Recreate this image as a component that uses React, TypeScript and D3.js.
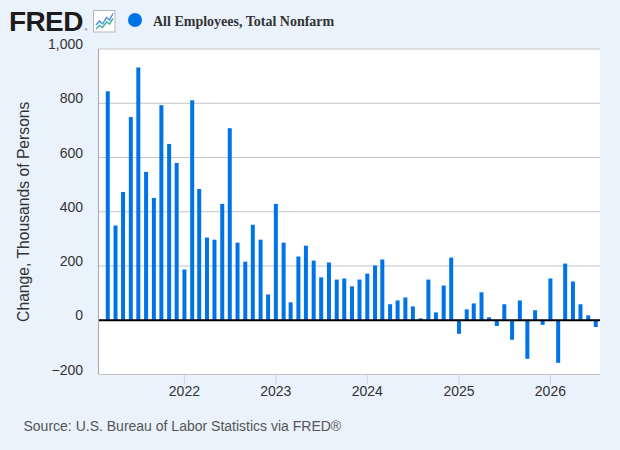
import React from "react";
import * as d3 from "d3";

const months: string[] = [
  "2021-03", "2021-04", "2021-05", "2021-06", "2021-07", "2021-08", "2021-09", "2021-10", "2021-11", "2021-12",
  "2022-01", "2022-02", "2022-03", "2022-04", "2022-05", "2022-06", "2022-07", "2022-08", "2022-09", "2022-10", "2022-11", "2022-12",
  "2023-01", "2023-02", "2023-03", "2023-04", "2023-05", "2023-06", "2023-07", "2023-08", "2023-09", "2023-10", "2023-11", "2023-12",
  "2024-01", "2024-02", "2024-03", "2024-04", "2024-05", "2024-06", "2024-07", "2024-08", "2024-09", "2024-10", "2024-11", "2024-12",
  "2025-01", "2025-02", "2025-03", "2025-04", "2025-05", "2025-06", "2025-07", "2025-08", "2025-09", "2025-10", "2025-11", "2025-12",
  "2026-01", "2026-02", "2026-03", "2026-04", "2026-05", "2026-06", "2026-07",
];

const changes: number[] = [
  844, 349, 473, 749, 932, 547, 451, 793, 650, 580,
  187, 811, 484, 305, 297, 429, 708, 286, 216, 352, 297, 95,
  429, 286, 66, 235, 275, 220, 158, 213, 150, 154, 125, 150,
  172, 202, 224, 59, 73, 84, 51, 7, 150, 29, 128, 231,
  -50, 40, 62, 103, 11, -21, 59, -72, 73, -142, 37, -17,
  154, -157, 209, 143, 59, 18, -25,
];

const yTicks: number[] = [-200, 0, 200, 400, 600, 800, 1000];
const xTickYears: string[] = ["2022", "2023", "2024", "2025", "2026"];

const seriesTitle = "All Employees, Total Nonfarm";
const yAxisTitle = "Change, Thousands of Persons";
const sourceText = "Source: U.S. Bureau of Labor Statistics via FRED®";

const W = 620;
const H = 450;
const plot = { left: 98.5, right: 600, top: 49, bottom: 374.5 };
const BG = "#eaf2fb";
const BAR = "#0073e6";
const FONT = "'Liberation Sans', Arial, Helvetica, sans-serif";

const parseMonth = d3.timeParse("%Y-%m");
const parseDay = d3.timeParse("%Y-%m-%d");

export default function App() {
  const x = d3
    .scaleTime()
    .domain([parseDay("2021-01-23")!, parseDay("2026-07-18")!])
    .range([plot.left, plot.right]);
  const y = d3.scaleLinear().domain([-200, 1000]).range([plot.bottom, plot.top]);
  const fmt = d3.format(",");
  const barW = 4;
  const data = months.map((m, i) => ({ date: parseMonth(m)!, value: changes[i] }));

  return (
    <svg
      width={W}
      height={H}
      style={{ position: "absolute", left: 0, top: 0, display: "block" }}
      fontFamily={FONT}
    >
      <rect x={0} y={0} width={W} height={H} fill={BG} />

      {/* FRED logo */}
      <text x={9} y={31} fontFamily={FONT} fontWeight={900} fontSize={28} fill="#1e1b1c" letterSpacing={-0.6}>
        FRED
      </text>
      <text x={84.5} y={31} fontSize={4} fill="#1e1b1c">®</text>
      <rect x={93.5} y={10.5} width={21.5} height={21.5} fill="#ffffff" stroke="#b5b5b5" strokeWidth={1} />
      <polyline
        points="96,25 99.5,21 102.5,24 106.5,17.5 109.5,20 113,13.5"
        fill="none"
        stroke="#3d8fe0"
        strokeWidth={1.4}
      />
      <polyline
        points="96,29 99.5,25.5 102.5,27.5 106.5,22 109.5,24 113,18.5"
        fill="none"
        stroke="#3fb68e"
        strokeWidth={1.4}
      />

      {/* legend */}
      <circle cx={135} cy={20} r={7} fill={BAR} />
      <text
        x={153}
        y={26}
        fontFamily="'Liberation Serif', 'Times New Roman', serif"
        fontWeight="bold"
        fontSize={14}
        fill="#333333"
      >
        {seriesTitle}
      </text>

      {/* plot background */}
      <rect x={plot.left} y={plot.top} width={plot.right - plot.left} height={plot.bottom - plot.top} fill="#ffffff" />

      {/* gridlines */}
      {yTicks
        .filter((t) => t !== 0 && t !== -200)
        .map((t) => (
          <line key={t} x1={plot.left} x2={plot.right} y1={y(t)} y2={y(t)} stroke="#c4c4c4" strokeWidth={1} />
        ))}

      {/* x ticks */}
      {xTickYears.map((yr) => {
        const xx = x(parseMonth(yr + "-01")!);
        return (
          <g key={yr}>
            <line x1={xx} x2={xx} y1={plot.bottom} y2={plot.bottom + 10} stroke="#c9d6e6" strokeWidth={1} />
            <text x={xx} y={396} textAnchor="middle" fontSize={14} fill="#333333">
              {yr}
            </text>
          </g>
        );
      })}

      {/* bars */}
      {data.map((d) => {
        const y0 = y(0);
        const y1 = y(d.value);
        return (
          <rect
            key={d.date.toISOString()}
            x={x(d.date) - barW / 2}
            y={Math.min(y0, y1)}
            width={barW}
            height={Math.abs(y1 - y0)}
            fill={BAR}
          />
        );
      })}

      {/* zero line */}
      <line x1={plot.left} x2={plot.right} y1={y(0)} y2={y(0)} stroke="#000000" strokeWidth={2} />

      {/* borders */}
      <line x1={plot.left} x2={plot.left} y1={plot.top} y2={plot.bottom} stroke="#a8a8a8" strokeWidth={1} />
      <line x1={plot.left} x2={plot.right} y1={plot.bottom} y2={plot.bottom} stroke="#c4c4c4" strokeWidth={1} />

      {/* y tick labels */}
      {yTicks.map((t) => (
        <text key={t} x={83} y={y(t)} textAnchor="end" fontSize={14} fill="#333333">
          {fmt(t)}
        </text>
      ))}

      {/* y axis title */}
      <text
        transform={`translate(29,${(plot.top + plot.bottom) / 2}) rotate(-90)`}
        textAnchor="middle"
        fontSize={15.7}
        fill="#333333"
      >
        {yAxisTitle}
      </text>

      {/* source */}
      <text x={23.5} y={431} fontSize={14} fill="#555555">
        {sourceText}
      </text>
    </svg>
  );
}
